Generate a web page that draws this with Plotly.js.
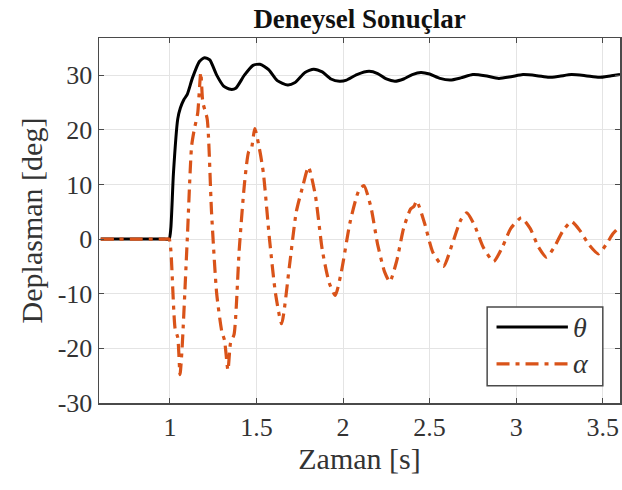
<!DOCTYPE html>
<html>
<head>
<meta charset="utf-8">
<script src="https://cdn.plot.ly/plotly-3.0.1.min.js"></script>
<style>html,body{margin:0;padding:0;background:#fff;}#chart{width:622px;height:490px;}</style>
</head>
<body>
<div id="chart"></div>
<script>
// Time values (s) and displacements (deg)
const thetaTime = [0.6,0.7,0.8,0.9,0.97,0.995,1.005,1.02,1.045,1.06,1.08,1.1,1.13,1.17,1.2,1.23,1.27,1.31,1.35,1.38,1.43,1.48,1.52,1.57,1.62,1.68,1.72,1.78,1.83,1.88,1.93,1.98,2.02,2.08,2.15,2.2,2.25,2.3,2.35,2.4,2.45,2.5,2.56,2.62,2.68,2.75,2.82,2.9,2.97,3.04,3.12,3.19,3.25,3.32,3.4,3.48,3.55,3.6];
const thetaDeg  = [0,0,0,0,0,0,2,12,22,24,25.5,26.5,29.5,32.5,33.2,32.8,30,28,27.4,27.6,30,31.8,32,31,29,28.2,28.6,30.5,31.1,30.6,29.3,28.9,29.1,30.1,30.7,30.3,29.3,28.9,29.3,30.1,30.5,30.2,29.4,29.1,29.5,30.1,29.9,29.4,29.7,30.1,29.9,29.6,29.8,30.1,29.9,29.6,29.9,30.1];

const alphaTime = [0.6,0.7,0.8,0.9,0.97,0.995,1.005,1.03,1.045,1.058,1.07,1.1,1.125,1.14,1.16,1.178,1.19,1.215,1.24,1.27,1.3,1.315,1.335,1.35,1.37,1.4,1.43,1.455,1.47,1.49,1.52,1.54,1.575,1.61,1.645,1.69,1.73,1.77,1.8,1.84,1.88,1.92,1.955,1.99,2.04,2.09,2.12,2.16,2.2,2.24,2.27,2.31,2.35,2.39,2.41,2.425,2.47,2.52,2.58,2.63,2.68,2.715,2.76,2.81,2.87,2.92,2.97,3.03,3.08,3.13,3.175,3.22,3.27,3.32,3.37,3.42,3.475,3.52,3.56,3.6];
const alphaDeg  = [0,0,0,0,0,0,-2,-16.5,-18,-24.8,-20,0,17,20,23,30.5,25,22,5,-10,-17,-18.5,-24,-19,-17.5,-2,10,16,16.5,20.2,16,12,0,-10,-15.5,-5,5,10,13.2,8,-2,-8,-10.3,-6,3,8.8,9.8,6,-1,-6,-7.8,-4,2,5.5,6,7,3,-2.5,-5,-1,3.5,4.8,2.5,-1.5,-4.1,-1.5,2,3.9,2,-1.5,-3.3,-1.5,1.5,3.2,1.5,-1,-2.7,-1,1,2.3];

const xTickVals = [1,1.5,2,2.5,3,3.5];
const xTickText = ['1','1.5','2','2.5','3','3.5'];
const yTickVals = [-30,-20,-10,0,10,20,30];
const yTickText = ['-30','-20','-10','0','10','20','30'];

const seriesNames = ['θ','α'];
const orange = '#D95319';
const frame = '#4a4a4a';
const serif = 'Liberation Serif, Times New Roman, serif';
const dashPattern = '13px,6px,4px,6px';

const traces = [
  {x: thetaTime, y: thetaDeg, name: seriesNames[0], type: 'scatter', mode: 'lines',
   line: {color: '#000', width: 3, shape: 'spline', smoothing: 0.6}},
  {x: alphaTime, y: alphaDeg, name: seriesNames[1], type: 'scatter', mode: 'lines',
   line: {color: orange, width: 3.2, dash: dashPattern, shape: 'spline', smoothing: 0.6}}
];

const axisCommon = {
  showgrid: true, gridcolor: '#e4e4e4', gridwidth: 1,
  showline: true, linecolor: frame, linewidth: 1.5, mirror: 'ticks',
  ticks: 'inside', ticklen: 5, tickcolor: frame, tickwidth: 1,
  zeroline: false, tickfont: {family: serif, size: 26, color: '#333'}
};

const layout = {
  width: 622, height: 490,
  margin: {l: 99, r: 2, t: 38, b: 87},
  paper_bgcolor: '#fff', plot_bgcolor: '#fff',
  showlegend: false,
  title: {text: '<b>Deneysel Sonuçlar</b>', font: {family: serif, size: 27, color: '#111'},
          x: 0.5, xref: 'paper', y: 0.963, yref: 'container', yanchor: 'middle'},
  xaxis: Object.assign({}, axisCommon, {
    range: [0.59, 3.6], tickvals: xTickVals, ticktext: xTickText,
    title: {text: 'Zaman [s]', font: {family: serif, size: 30, color: '#333'}, standoff: 4}
  }),
  yaxis: Object.assign({}, axisCommon, {
    range: [-30, 36.8], tickvals: yTickVals, ticktext: yTickText,
    title: {text: 'Deplasman [deg]', font: {family: serif, size: 30, color: '#333'}, standoff: 6}
  }),
  shapes: [
    {type: 'rect', xref: 'paper', yref: 'paper', x0: 0.745, x1: 0.967, y0: 0.047, y1: 0.263,
     line: {color: frame, width: 1.5}, fillcolor: '#fff', layer: 'above'},
    {type: 'line', xref: 'paper', yref: 'paper', x0: 0.763, x1: 0.900, y0: 0.208, y1: 0.208,
     line: {color: '#000', width: 3}, layer: 'above'},
    {type: 'line', xref: 'paper', yref: 'paper', x0: 0.763, x1: 0.900, y0: 0.107, y1: 0.107,
     line: {color: orange, width: 3.2, dash: dashPattern}, layer: 'above'}
  ],
  annotations: [
    {text: '<i>' + seriesNames[0] + '</i>', xref: 'paper', yref: 'paper', x: 0.905, y: 0.208,
     xanchor: 'left', yanchor: 'middle', showarrow: false, font: {family: serif, size: 28, color: '#333'}},
    {text: '<i>' + seriesNames[1] + '</i>', xref: 'paper', yref: 'paper', x: 0.905, y: 0.107,
     xanchor: 'left', yanchor: 'middle', showarrow: false, font: {family: serif, size: 28, color: '#333'}}
  ]
};

Plotly.newPlot('chart', traces, layout, {displayModeBar: false, staticPlot: true});
</script>
</body>
</html>
